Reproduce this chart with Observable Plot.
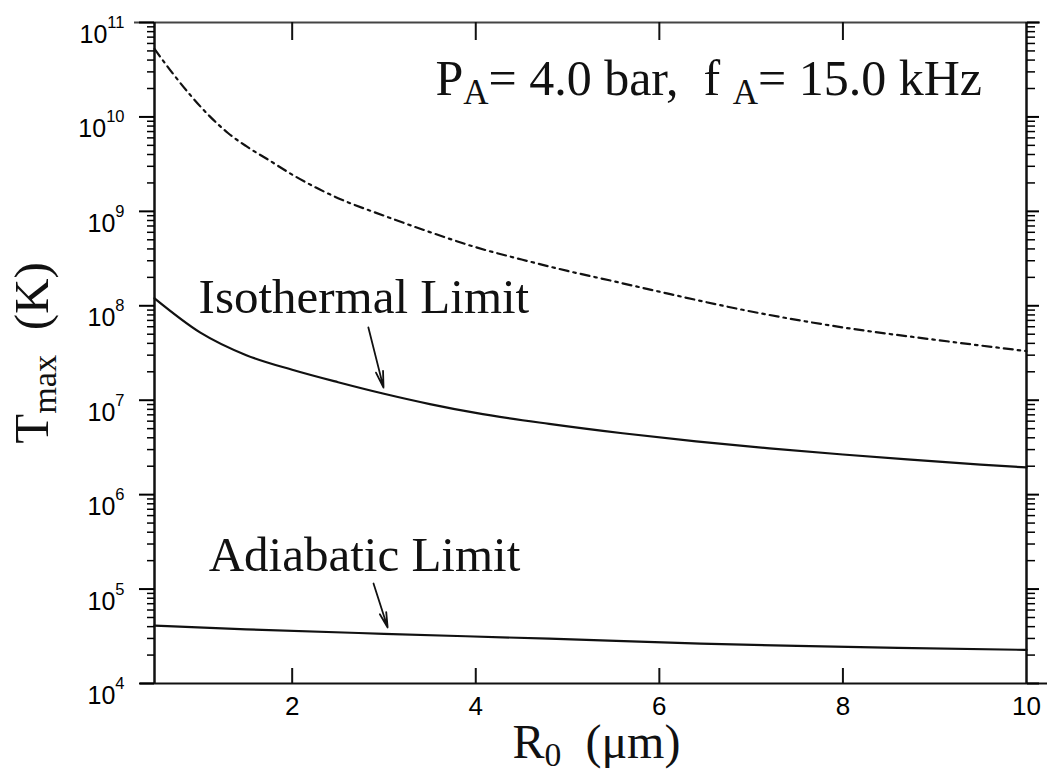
<!DOCTYPE html>
<html><head><meta charset="utf-8">
<script src="https://cdn.jsdelivr.net/npm/d3@7"></script>
<script src="https://cdn.jsdelivr.net/npm/@observablehq/plot@0.6"></script>
<style>body{margin:0;background:#fff}</style>
</head><body><div id="chart"></div>
<script>
// Upper (dash-dot) curve
const upperR = [0.5, 0.7, 0.9, 1.1, 1.3, 1.5, 1.75, 2.0, 2.5, 3.0, 3.5, 4.0, 4.5, 5.0, 5.5, 6.0, 7.0, 8.0, 9.0, 10.0];
const upperT = [5.25e10, 2.88e10, 1.66e10, 1.02e10, 6.76e9, 4.9e9, 3.47e9, 2.45e9, 1.38e9, 9.0e8, 6.03e8, 4.17e8, 3.09e8, 2.34e8, 1.82e8, 1.41e8, 8.7e7, 5.9e7, 4.37e7, 3.31e7];
// Isothermal limit
const isoR = [0.5, 1.0, 1.5, 2.0, 2.5, 3.0, 3.5, 4.0, 4.8, 5.6, 6.4, 7.2, 8.0, 8.7, 9.5, 10.0];
const isoT = [1.2e8, 5.2e7, 3.0e7, 2.1e7, 1.55e7, 1.17e7, 9.1e6, 7.33e6, 5.62e6, 4.47e6, 3.67e6, 3.09e6, 2.66e6, 2.36e6, 2.08e6, 1.94e6];
// Adiabatic limit
const adiR = [0.5, 1.5, 3.0, 4.8, 6.45, 7.5, 8.6, 10.0];
const adiT = [4.1e4, 3.75e4, 3.36e4, 2.98e4, 2.65e4, 2.5e4, 2.38e4, 2.27e4];

const decades = [1e4, 1e5, 1e6, 1e7, 1e8, 1e9, 1e10, 1e11];
const minorMultipliers = [2, 3, 4, 5, 6, 7, 8, 9];
const xTickLabels = [2, 4, 6, 8, 10];
const xInnerTicks = [2, 4, 6, 8];

const minorTicks = decades.slice(0, -1).flatMap(d => minorMultipliers.map(m => m * d));

const upper = upperR.map((r, i) => ({r, t: upperT[i]}));
const iso = isoR.map((r, i) => ({r, t: isoT[i]}));
const adi = adiR.map((r, i) => ({r, t: adiT[i]}));

const SERIF = "Liberation Serif, Times New Roman, serif";
const SANS = "Liberation Sans, Arial, sans-serif";

const chart = Plot.plot({
  width: 1047,
  height: 774,
  marginLeft: 154,
  marginRight: 21,
  marginTop: 22,
  marginBottom: 91,
  style: {background: "white", fontFamily: SANS, overflow: "visible"},
  x: {domain: [0.5, 10]},
  y: {type: "log", domain: [1e4, 1e11]},
  marks: [
    // frame lines
    Plot.ruleY([1e11], {insetLeft: -20, insetRight: -14, stroke: "#444", strokeWidth: 2}),
    Plot.ruleY([1e4], {insetLeft: -14, insetRight: -21, stroke: "#111", strokeWidth: 2}),
    Plot.ruleX([0.5, 10], {stroke: "#111", strokeWidth: 2.5}),
    // inward x ticks, bottom and top
    Plot.tickX(xInnerTicks, {x: d => d, insetTop: 646, stroke: "#111", strokeWidth: 2}),
    Plot.tickX(xInnerTicks, {x: d => d, insetBottom: 643, stroke: "#111", strokeWidth: 2}),
    // x tick labels
    Plot.axisX({ticks: xTickLabels, tickSize: 0, tickPadding: 13, label: null, tickFormat: d => String(d)}),
    // left y axis
    Plot.axisY({ticks: decades, tickSize: 15, tickPadding: 15, label: null, strokeWidth: 2,
      tickFormat: d => `10^{${Math.round(Math.log10(d))}}`}),
    Plot.axisY({ticks: minorTicks, tickSize: 7, label: null, strokeWidth: 1.5, tickFormat: () => ""}),
    // right y axis
    Plot.axisY({anchor: "right", ticks: decades, tickSize: 12, label: null, strokeWidth: 2, tickFormat: () => ""}),
    Plot.axisY({anchor: "right", ticks: minorTicks, tickSize: 8, label: null, strokeWidth: 1.5, tickFormat: () => ""}),
    // curves
    Plot.line(upper, {x: "r", y: "t", stroke: "#111", strokeWidth: 2.2, strokeDasharray: "9,5,2.5,5", curve: "monotone-x"}),
    Plot.line(iso, {x: "r", y: "t", stroke: "#111", strokeWidth: 2.2, curve: "monotone-x"}),
    Plot.line(adi, {x: "r", y: "t", stroke: "#111", strokeWidth: 2.2, curve: "monotone-x"}),
    // annotations
    Plot.text(["Isothermal Limit"], {x: () => 0.98, y: () => 8.3e7, text: d => d, textAnchor: "start", lineAnchor: "bottom", fontSize: 49, fontFamily: SERIF, fill: "#111"}),
    Plot.arrow([0], {x1: () => 2.83, y1: () => 5.9e7, x2: () => 2.995, y2: () => 1.36e7, stroke: "#111", strokeWidth: 1.8, headLength: 14, headAngle: 25}),
    Plot.text(["Adiabatic Limit"], {x: () => 1.09, y: () => 1.57e5, text: d => d, textAnchor: "start", lineAnchor: "bottom", fontSize: 49, fontFamily: SERIF, fill: "#111"}),
    Plot.arrow([0], {x1: () => 2.886, y1: () => 1.146e5, x2: () => 3.04, y2: () => 3.92e4, stroke: "#111", strokeWidth: 1.8, headLength: 14, headAngle: 25}),
    Plot.text(["P_{A}= 4.0 bar,  f _{A}= 15.0 kHz"], {x: () => 3.56, y: () => 1.69e10, text: d => d, textAnchor: "start", lineAnchor: "bottom", fontSize: 50, fontFamily: SERIF, fill: "#111"}),
    // axis titles
    Plot.text(["T_{max}  (K)"], {frameAnchor: "left", text: d => d, rotate: -90, dx: -107, lineAnchor: "bottom", textAnchor: "middle", fontSize: 49, fontFamily: SERIF, fill: "#111"}),
    Plot.text(["R_{0}  (μm)"], {frameAnchor: "bottom", text: d => d, dx: 6, dy: 74, lineAnchor: "bottom", textAnchor: "middle", fontSize: 48, fontFamily: SERIF, fill: "#111"})
  ]
});

document.getElementById("chart").appendChild(chart);

// tick label font size (identify tick labels by their content)
chart.querySelectorAll("text").forEach(t => {
  const s = t.textContent;
  if (/^10\^\{\d+\}$/.test(s)) {
    t.style.fontSize = "25px";
    t.setAttribute("dy", "0.5em");
  } else if (/^\d+$/.test(s)) {
    t.style.fontSize = "26px";
  }
});

// Turn _{..} and ^{..} markup into real sub/superscript tspans
const SVGNS = "http://www.w3.org/2000/svg";
chart.querySelectorAll("text").forEach(t => {
  const s = t.textContent;
  if (!/[_^]\{/.test(s)) return;
  t.textContent = "";
  t.style.whiteSpace = "pre";
  const re = /([_^])\{([^}]*)\}/g;
  let last = 0, m, pending = 0;
  const SUB = 0.18;
  const add = (txt, opts) => {
    if (!txt) return;
    const ts = document.createElementNS(SVGNS, "tspan");
    ts.textContent = txt;
    if (opts && opts.size) ts.setAttribute("font-size", opts.size);
    if (opts && opts.dy) ts.setAttribute("dy", opts.dy);
    t.appendChild(ts);
  };
  while ((m = re.exec(s))) {
    const pre = s.slice(last, m.index);
    add(pre, pending ? {dy: pending + "em"} : null);
    if (pre) pending = 0;
    if (m[1] === "_") {
      add(m[2], {size: "70%", dy: (pending / 0.7 + SUB / 0.7).toFixed(3) + "em"});
      pending = -SUB;
    } else {
      add(m[2], {size: "66%", dy: (pending / 0.66 - 0.6 / 0.66).toFixed(3) + "em"});
      pending = 0.6;
    }
    last = re.lastIndex;
  }
  add(s.slice(last), pending ? {dy: pending + "em"} : null);
});
</script>
</body></html>
